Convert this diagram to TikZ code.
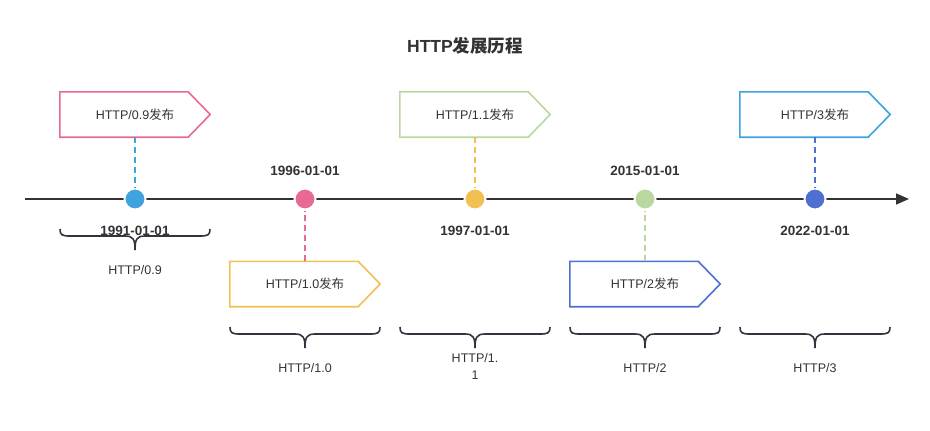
\documentclass[tikz,border=0pt]{standalone}
\usepackage{fontspec}
\setmainfont{Liberation Sans}
\newfontfamily\cjk{Noto Sans CJK SC}
\usetikzlibrary{arrows.meta}
\definecolor{cblue}{HTML}{3FA3E0}
\definecolor{cpink}{HTML}{E86A92}
\definecolor{cyellow}{HTML}{F2C052}
\definecolor{cgreen}{HTML}{B8D8A0}
\definecolor{cpurple}{HTML}{4F70D0}
\definecolor{ctext}{HTML}{333333}
\definecolor{cbrace}{HTML}{2F3640}
\begin{document}
\begin{tikzpicture}[x=1pt,y=-1pt,
  titlefont/.style={font={\fontsize{17.5}{20}\selectfont\bfseries}, text=ctext},
  datefont/.style={font={\fontsize{13.5}{16}\selectfont\bfseries}, text=ctext},
  flagbox/.style={rectangle, minimum width=150pt, minimum height=45pt, inner sep=0pt,
    font={\fontsize{12.5}{14}\selectfont}, text=ctext},
  flagline/.style={line width=1.6pt},
  dot/.style={circle, minimum size=21pt, inner sep=0pt, draw=white, line width=2pt},
  linkline/.style={line width=1.6pt, dash pattern=on 6pt off 4pt},
  axisline/.style={line width=1.6pt, draw=ctext, -{Triangle[length=13pt,width=11pt]}},
  bracepath/.style={line width=1.6pt, draw=cbrace},
  bracelabel/.style={font={\fontsize{12.5}{17}\selectfont}, text=ctext, align=center}]
\useasboundingbox (0,0) rectangle (930,431);

\node[titlefont] (title) at (465,46) {HTTP{\cjk 发展历程}};

% axis
\coordinate (a0) at (25,199);
\coordinate (a1) at (909,199);
\draw[axisline] (a0) -- (a1);

% dots
\node[dot, fill=cblue]   (d1) at (135,199) {};
\node[dot, fill=cpink]   (d2) at (305,199) {};
\node[dot, fill=cyellow] (d3) at (475,199) {};
\node[dot, fill=cgreen]  (d4) at (645,199) {};
\node[dot, fill=cpurple] (d5) at (815,199) {};

% dates
\node[datefont] (t1) at (135,230.5) {1991-01-01};
\node[datefont] (t2) at (305,170.5) {1996-01-01};
\node[datefont] (t3) at (475,230.5) {1997-01-01};
\node[datefont] (t4) at (645,170.5) {2015-01-01};
\node[datefont] (t5) at (815,230.5) {2022-01-01};

% flags
\node[flagbox] (f1) at (135,114.5) {HTTP/0.9{\cjk 发布}};
\node[flagbox] (f2) at (305,284)   {HTTP/1.0{\cjk 发布}};
\node[flagbox] (f3) at (475,114.5) {HTTP/1.1{\cjk 发布}};
\node[flagbox] (f4) at (645,284)   {HTTP/2{\cjk 发布}};
\node[flagbox] (f5) at (815,114.5) {HTTP/3{\cjk 发布}};

\foreach \f/\c in {f1/cpink, f2/cyellow, f3/cgreen, f4/cpurple, f5/cblue}{
  \draw[flagline, draw=\c] (\f.north west) -- ([xshift=-22pt]\f.north east) -- (\f.east)
    -- ([xshift=-22pt]\f.south east) -- (\f.south west) -- cycle;
}

% dashed links
\draw[linkline, draw=cblue]   (f1) -- (d1);
\draw[linkline, draw=cpink]   (f2) -- (d2);
\draw[linkline, draw=cyellow] (f3) -- (d3);
\draw[linkline, draw=cgreen]  (f4) -- (d4);
\draw[linkline, draw=cpurple] (f5) -- (d5);

% braces
\foreach \bx/\by in {135/229, 305/327, 475/327, 645/327, 815/327}{
  \draw[bracepath] (\bx-75,\by) .. controls (\bx-75,\by+6) and (\bx-73,\by+7) .. (\bx-65,\by+7)
    -- (\bx-10,\by+7) .. controls (\bx-2,\by+7) and (\bx,\by+10) .. (\bx,\by+21)
    .. controls (\bx,\by+10) and (\bx+2,\by+7) .. (\bx+10,\by+7)
    -- (\bx+65,\by+7) .. controls (\bx+73,\by+7) and (\bx+75,\by+6) .. (\bx+75,\by);
}

% brace labels
\node[bracelabel] (b1) at (135,270) {HTTP/0.9};
\node[bracelabel] (b2) at (305,368) {HTTP/1.0};
\node[bracelabel] (b3) at (475,366.5) {HTTP/1.\\1};
\node[bracelabel] (b4) at (645,368) {HTTP/2};
\node[bracelabel] (b5) at (815,368) {HTTP/3};
\end{tikzpicture}
\end{document}
